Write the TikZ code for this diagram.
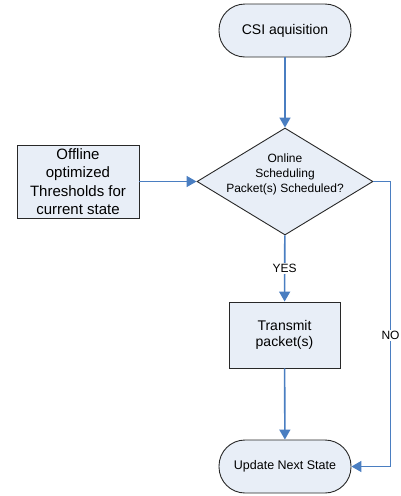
\documentclass[tikz,border=0pt]{standalone}
\usepackage{fontspec}
\setmainfont{Liberation Sans}
\usetikzlibrary{arrows.meta,shapes.geometric}
\definecolor{boxfill}{RGB}{232,238,247}
\definecolor{flow}{RGB}{74,126,193}
\definecolor{edge}{RGB}{40,40,40}
\begin{document}
\begin{tikzpicture}[x=1pt,y=1pt,
  term/.style={draw=edge,fill=boxfill,line width=0.9pt,rounded corners=26pt,minimum width=132pt,minimum height=53pt,inner sep=0pt,align=center},
  procbox/.style={draw=edge,fill=boxfill,line width=0.9pt,inner sep=0pt,align=center},
  decision/.style={draw=edge,fill=boxfill,line width=0.9pt,diamond,aspect=1.645,minimum width=176pt,minimum height=107pt,inner sep=0pt},
  conn/.style={draw=flow,line width=1.6pt,-{Triangle[length=10pt,width=11pt]}},
  lbl/.style={fill=white,inner sep=1pt,font=\fontsize{12}{14}\selectfont}
]
\useasboundingbox (0,0) rectangle (400,-496);
\node[term,font=\fontsize{14}{16}\selectfont] (csi) at (285,-30.5) {CSI aquisition};
\node[decision] (dec) at (285,-181.5) {};
\node[align=center,font=\fontsize{12}{15}\selectfont,inner sep=0pt] (dect) at (285,-174) {Online\\Scheduling\\Packet(s) Scheduled?};
\node[procbox,minimum width=122pt,minimum height=73pt,font=\fontsize{15}{18.5}\selectfont] (off) at (78,-181.5) {Offline\\optimized\\Thresholds for\\current state};
\node[procbox,minimum width=111pt,minimum height=66pt,font=\fontsize{14}{16}\selectfont] (tx) at (284.5,-335) {Transmit\\packet(s)};
\node[term,font=\fontsize{12.5}{15}\selectfont] (upd) at (285,-466.5) {Update Next State};
\coordinate (nr) at (390.5,-181.5);
\draw[conn] (csi) -- (dec);
\draw[conn] (off) -- (dec);
\draw[conn] (dec) -- node[lbl] (yes) {YES} (tx);
\draw[conn] (tx) -- (upd);
\draw[conn,rounded corners=0pt] (dec.east) -- (nr) |- node[lbl,pos=0.27] (no) {NO} (upd.east);
\end{tikzpicture}
\end{document}
